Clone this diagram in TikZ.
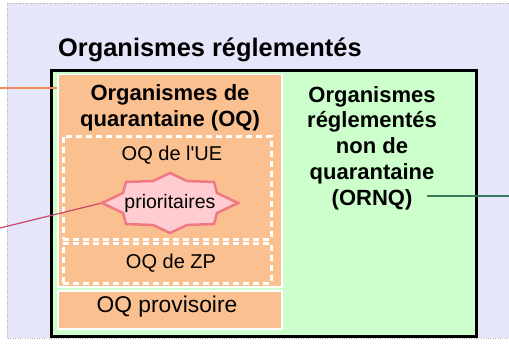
\documentclass[tikz,border=0pt]{standalone}
\usepackage{fontspec}
\setmainfont{Liberation Sans}[Ligatures=TeXOff]
\definecolor{bgc}{RGB}{230,230,250}
\definecolor{greenc}{RGB}{204,255,204}
\definecolor{orangec}{RGB}{250,192,144}
\definecolor{starfill}{RGB}{255,204,210}
\definecolor{stardraw}{RGB}{240,120,130}
\definecolor{oline}{RGB}{240,140,90}
\definecolor{pline}{RGB}{200,70,110}
\definecolor{gline}{RGB}{60,120,90}
\begin{document}
\begin{tikzpicture}[x=1pt,y=-1pt,
  orbox/.style={draw=white,line width=1.5pt,fill=orangec,anchor=north west,inner sep=0pt},
  dbox/.style={draw=white,line width=2.5pt,dash pattern=on 6pt off 4pt,anchor=north west,inner sep=0pt},
  bigtxt/.style={font=\bfseries\fontsize{22}{26.5}\selectfont,align=center,inner sep=0pt},
  smtxt/.style={font=\fontsize{20}{24}\selectfont,inner sep=0pt},
  conn/.style={line width=1.2pt},
  starsty/.style={draw=stardraw,fill=starfill,line width=2.5pt,line join=miter}]
\useasboundingbox (0,0) rectangle (509,345);
\clip (0,0) rectangle (509,345);
\fill[white] (0,0) rectangle (509,345);
\draw[gray!60,dotted,fill=bgc] (7,3) rectangle (530,338);
% title
\node[anchor=base west,font=\bfseries\fontsize{25.4}{30}\selectfont,inner sep=0pt] (title) at (58,57) {Organismes réglementés};
% outer box
\node[draw=black,line width=3pt,fill=greenc,anchor=north west,inner sep=0pt,minimum width=425pt,minimum height=266pt] (reg) at (50,69) {};
% quarantine box
\node[orbox,minimum width=224pt,minimum height=212pt] (oq) at (57,74) {};
\node[bigtxt] (oqt) at (170,108) {Organismes de\\quarantaine (OQ)};
\node[dbox,minimum width=208pt,minimum height=103pt] (ue) at (62,135) {};
\node[dbox,minimum width=208pt,minimum height=40pt] (zp) at (62,242) {};
\node[smtxt] (uet) at (172,155) {OQ de l'UE};
\node[smtxt] (zpt) at (171,263) {OQ de ZP};
\node[orbox,minimum width=224pt,minimum height=38pt] (prov) at (57,290) {};
\node[smtxt,font=\fontsize{22.8}{26}\selectfont] (provt) at (167,307) {OQ provisoire};
% ornq text
\node[bigtxt,font=\bfseries\fontsize{22}{25.8}\selectfont] (ornq) at (372,148) {Organismes\\réglementés\\non de\\quarantaine\\(ORNQ)};
% star placeholder node
\node[inner sep=0pt,minimum width=136pt,minimum height=60pt] (prio) at (170,203) {};
% connectors
\coordinate (ol) at (0,88);
\draw[oline,conn] (ol) -- (oq.west |- ol);
\coordinate (pl) at (0,228);
\draw[pline,conn] (pl) -- (prio.west);
\coordinate (g1) at (427,196);
\coordinate (g2) at (509,196);
\draw[gline,conn] (g1) -- (g2);
% star
\begin{scope}[shift={(prio.center)}]
\draw[starsty] (68,0) -- (47,-10) -- (44,-21) -- (17,-22) -- (0,-30) -- (-17,-22) -- (-44,-21) -- (-47,-10)
  -- (-68,0) -- (-47,10) -- (-44,21) -- (-17,22) -- (0,30) -- (17,22) -- (44,21) -- (47,10) -- cycle;
\end{scope}
\node[font=\fontsize{19.5}{22}\selectfont,inner sep=0pt] (priot) at (prio.center) {prioritaires};
\end{tikzpicture}
\end{document}
